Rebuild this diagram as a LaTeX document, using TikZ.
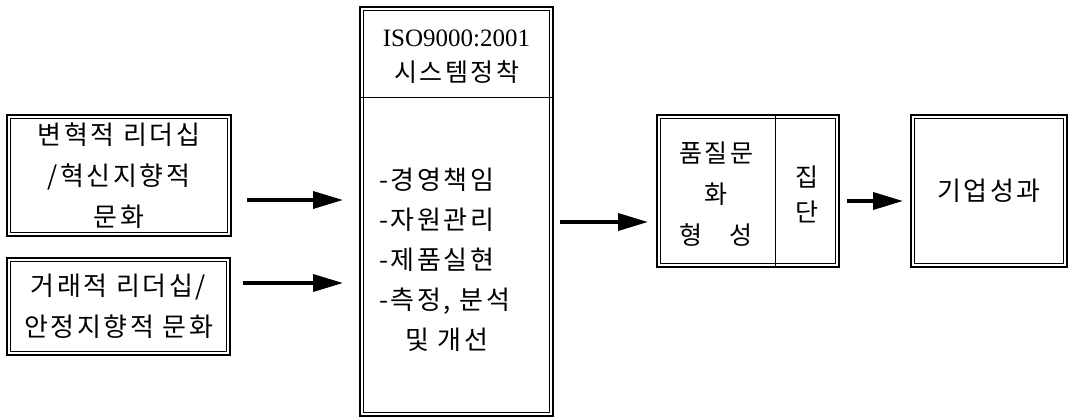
\documentclass[tikz,border=0pt]{standalone}
\usepackage{fontspec}
\setmainfont{Liberation Serif}
\newfontfamily\kr[LetterSpace=10]{Noto Sans CJK KR}
\usetikzlibrary{arrows.meta,calc}
\begin{document}
\begin{tikzpicture}[x=1pt,y=-1pt,
  box/.style={draw, line width=2.6pt, inner sep=0pt, outer sep=0pt,
    path picture={\draw[line width=0.9pt]
      ($(path picture bounding box.south west)+(3.6pt,3.6pt)$) rectangle
      ($(path picture bounding box.north east)+(-3.6pt,-3.6pt)$);}},
  txt/.style={font=\kr\fontsize{26}{41}\selectfont, align=center, inner sep=0pt},
  divider/.style={line width=0.9pt},
  arr/.style={line width=3.6pt, -{Triangle[length=30pt,width=17pt]}}
]
\fill[white] (0,0) rectangle (1070,418);
\useasboundingbox (0,0) rectangle (1070,418);

% boxes
\node[box, txt, minimum width=224pt, minimum height=121pt] (b1) at (119,175.5)
  {변혁적 리더십\\/혁신지향적\\문화};
\node[box, txt, minimum width=223pt, minimum height=97pt] (b2) at (118.5,306.5)
  {거래적 리더십/\\안정지향적 문화};
\node[box, minimum width=193pt, minimum height=409pt] (b3) at (456.5,211.5) {};
\node[box, minimum width=182pt, minimum height=152pt] (b4) at (748,191) {};
\node[box, txt, minimum width=156pt, minimum height=152pt] (b5) at (989,191) {기업성과};

% box 3 content
\coordinate (d3) at (0,97);
\draw[divider] (b3.west |- d3) -- (b3.east |- d3);
\node[txt, font=\fontsize{25}{34}\selectfont] (h3) at (456.5,38) {ISO9000:2001};
\node[txt, font=\kr\fontsize{25}{34}\selectfont] (h3b) at (456.5,72) {시스템정착};
\node[txt, align=left, anchor=west, font=\kr\fontsize{26}{40}\selectfont] (l3) at (379,260)
  {-경영책임\\-자원관리\\-제품실현\\-측정, 분석\\\hspace*{26pt}및 개선};

% box 4 content
\coordinate (d4) at (775,0);
\draw[divider] (b4.north -| d4) -- (b4.south -| d4);
\node[txt, font=\kr\fontsize{25}{41}\selectfont] (t4a) at (716,194) {품질문\\화\\형\hspace{1.1em}성};
\node[txt, font=\kr\fontsize{25}{35}\selectfont] (t4b) at (807,194) {집\\단};

% arrows
\coordinate (y1) at (0,200);
\coordinate (y2) at (0,283);
\coordinate (y3) at (0,222);
\coordinate (y4) at (0,201);
\draw[arr, shorten <=16pt, shorten >=17pt] (b1.east |- y1) -- (b3.west |- y1);
\draw[arr, shorten <=13pt, shorten >=17pt] (b2.east |- y2) -- (b3.west |- y2);
\draw[arr, shorten <=7pt, shorten >=9pt] (b3.east |- y3) -- (b4.west |- y3);
\draw[arr, shorten <=8pt, shorten >=8pt] (b4.east |- y4) -- (b5.west |- y4);
\end{tikzpicture}
\end{document}
